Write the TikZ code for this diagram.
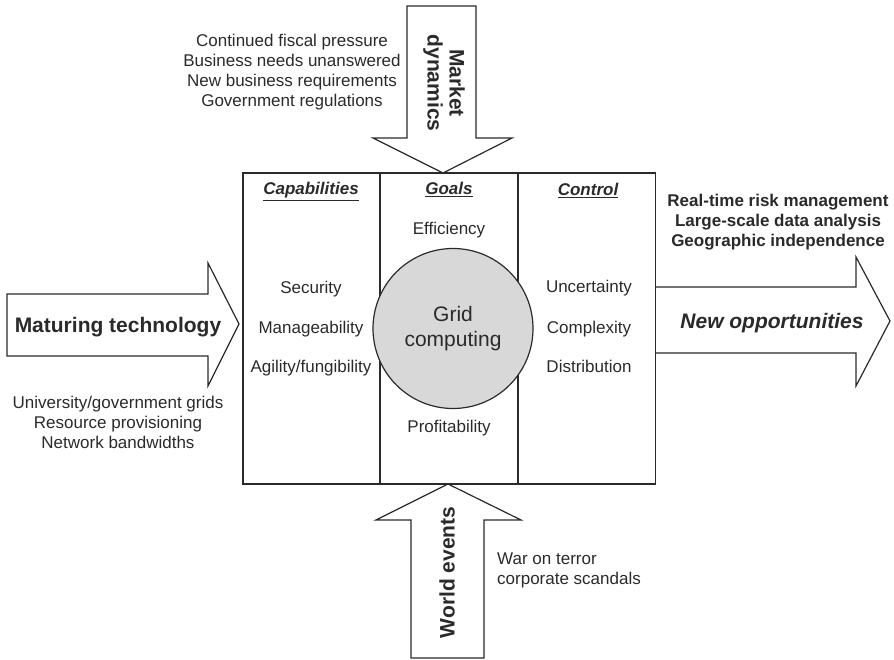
\documentclass[tikz,border=0pt]{standalone}
\usepackage{fontspec}
\setmainfont{Liberation Sans}
\usetikzlibrary{positioning}
\definecolor{Ink}{HTML}{2A2A2A}
\definecolor{DiscGray}{HTML}{D8D8D8}

\begin{document}
\begin{tikzpicture}[
      x=1pt, y=-1pt,
      column/.style={
        draw=Ink,
        line width=1.3pt,
        minimum width=137pt,
        minimum height=311pt,
        inner sep=0pt
      },
      disc/.style={circle, draw=Ink, line width=1.2pt, fill=DiscGray,
        minimum size=160pt, align=center, text=Ink,
        font=\fontsize{21}{25}\selectfont},
      blockarrow/.style={draw=Ink, line width=1.2pt, fill=white, line join=miter},
      entry/.style={font=\fontsize{17}{20}\selectfont, text=Ink, inner sep=0pt, anchor=base},
      heading/.style={entry, font=\fontsize{17}{20}\selectfont\bfseries\itshape},
      caption/.style={entry, align=center},
      bold caption/.style={caption, font=\fontsize{17}{20}\selectfont\bfseries},
      force/.style={font=\fontsize{21}{22}\selectfont\bfseries, text=Ink,
        align=center, inner sep=0pt}
    ]
  \useasboundingbox (0,0) rectangle (894,660);

  % the three columns
  \node[column] (capcol)  at (311.5,328.5) {};
  \node[column] (goalcol) at (449,328.5) {};
  \node[column] (ctrlcol) at (587,328.5) {};

  \node[heading] (caphead)  at (311,195) {\underline{Capabilities}};
  \node[heading] (goalhead) at (449,195) {\underline{Goals}};
  \node[heading] (ctrlhead) at (588,196) {\underline{Control}};

  \node[entry] (security) at (311,294) {Security};
  \node[entry] (manage)   at (311,334) {Manageability};
  \node[entry] (agility)  at (311,372) {Agility/fungibility};

  \node[entry] (uncert)   at (589,293) {Uncertainty};
  \node[entry] (complex)  at (589,333) {Complexity};
  \node[entry] (distrib)  at (589,372) {Distribution};

  \node[entry] (effic)  at (449,235) {Efficiency};
  \node[entry] (profit) at (449,432) {Profitability};

  % grid computing disc sits on top of the dividers
  \node[disc] (grid) at (453,328.5) {Grid\\computing};

  % driving forces (multi-line captions sit on their last baseline)
  \draw[blockarrow] (407,6) -- (476,6) -- (476,138) -- (512,138) -- (443,173)
    -- (373,138) -- (407,138) -- cycle;
  \node[force, rotate=-90] (market) at (444,83) {Market\\dynamics};
  \node[caption] (marketnote) at (292,107)
    {Continued fiscal pressure\\Business needs unanswered\\New business requirements\\Government regulations};

  \draw[blockarrow] (7,294) -- (208,294) -- (208,263) -- (239,324) -- (208,386)
    -- (208,356) -- (7,356) -- cycle;
  \node[force, anchor=base] (maturing) at (118,332) {Maturing technology};
  \node[caption] (technote) at (118,448)
    {University/government grids\\Resource provisioning\\Network bandwidths};

  \draw[blockarrow] (411,658) -- (411,520) -- (376,520) -- (448,484) -- (521,520)
    -- (484,520) -- (484,658) -- cycle;
  \node[force, rotate=90] (world) at (447,572.5) {World events};
  \node[entry, align=left, anchor=base west] (worldnote) at (497,584)
    {War on terror\\corporate scandals};

  % outcome
  \draw[blockarrow] (656,287) -- (856,287) -- (856,257) -- (890,321) -- (856,386)
    -- (856,353) -- (656,353);
  \node[force, anchor=base, font=\fontsize{21}{22}\selectfont\bfseries\itshape]
    (newopp) at (772,328) {New opportunities};
  \node[bold caption] (oppnote) at (778,247)
    {Real-time risk management\\Large-scale data analysis\\Geographic independence};
\end{tikzpicture}
\end{document}
